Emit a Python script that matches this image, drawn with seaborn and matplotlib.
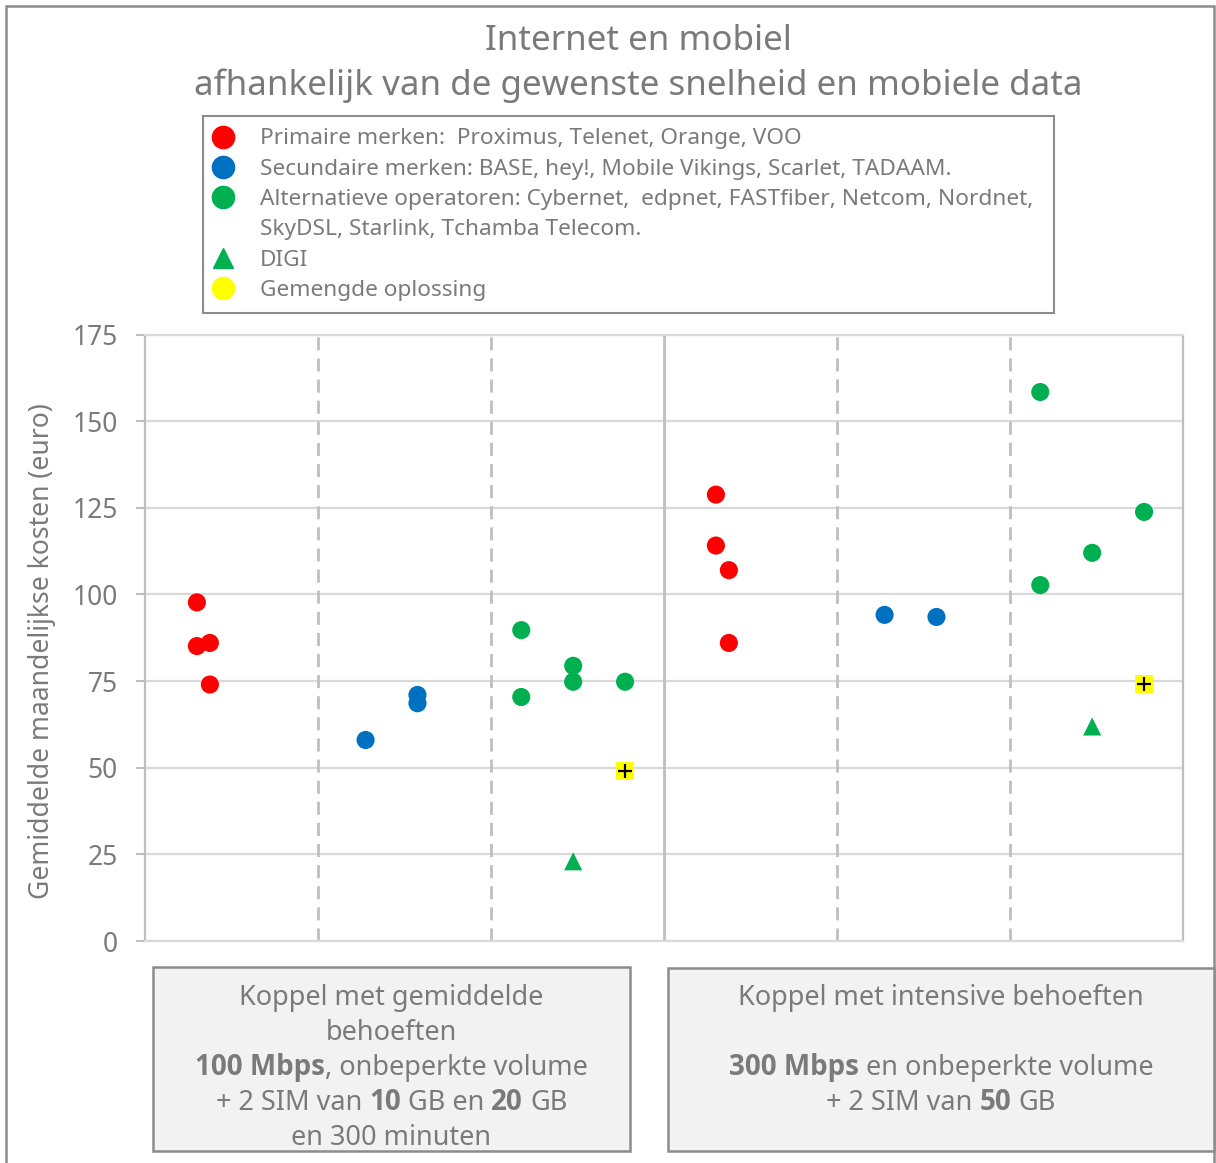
import matplotlib
matplotlib.use("Agg")
import matplotlib.pyplot as plt
from matplotlib import font_manager as fm
from matplotlib.lines import Line2D
from matplotlib.patches import Rectangle
import seaborn as sns
import pandas as pd

# ---------------- data ----------------
primaire_x = [0.3, 0.3, 0.375, 0.375, 3.3, 3.3, 3.375, 3.375]
primaire_y = [97.7, 85.1, 86.0, 74.0, 128.8, 114.1, 107.0, 86.0]
secundaire_x = [1.275, 1.575, 1.575, 4.275, 4.575]
secundaire_y = [58.0, 71.0, 68.6, 94.1, 93.5]
alternatief_x = [2.175, 2.175, 2.475, 2.475, 2.775, 5.175, 5.175, 5.475, 5.775]
alternatief_y = [89.7, 70.4, 79.4, 74.8, 74.8, 158.4, 102.7, 112.0, 123.8]
digi_x = [2.475, 5.475]
digi_y = [23.0, 61.9]
gemengd_x = [2.775, 5.775]
gemengd_y = [49.1, 74.1]

legend_labels = [
    "Primaire merken:  Proximus, Telenet, Orange, VOO",
    "Secundaire merken: BASE, hey!, Mobile Vikings, Scarlet, TADAAM.",
    "Alternatieve operatoren: Cybernet,  edpnet, FASTfiber, Netcom, Nordnet,",
    "SkyDSL, Starlink, Tchamba Telecom.",
    "DIGI",
    "Gemengde oplossing",
]
y_ticks = [0, 25, 50, 75, 100, 125, 150, 175]
title_lines = ["Internet en mobiel",
               "afhankelijk van de gewenste snelheid en mobiele data"]
y_label = "Gemiddelde maandelijkse kosten (euro)"
box_left_lines = [
    [("Koppel met gemiddelde", False)],
    [("behoeften", False)],
    [("100 Mbps", True), (", onbeperkte volume", False)],
    [("+ 2 SIM van", False), ("10", True), ("GB en", False), ("20", True), ("GB", False)],
    [("en 300 minuten", False)],
]
box_right_lines = [
    [("Koppel met intensive behoeften", False)],
    [],
    [("300 Mbps", True), ("en onbeperkte volume", False)],
    [("+ 2 SIM van", False), ("50", True), ("GB", False)],
]

groups = (["Primair"] * len(primaire_x) + ["Secundair"] * len(secundaire_x)
          + ["Alternatief"] * len(alternatief_x) + ["DIGI"] * len(digi_x)
          + ["Gemengd"] * len(gemengd_x))
df = pd.DataFrame({
    "x": primaire_x + secundaire_x + alternatief_x + digi_x + gemengd_x,
    "y": primaire_y + secundaire_y + alternatief_y + digi_y + gemengd_y,
    "groep": groups,
})

RED, BLUE, GREEN, YELLOW = "#FF0000", "#0070C0", "#00B050", "#FFFF00"
palette = {"Primair": RED, "Secundair": BLUE, "Alternatief": GREEN,
           "DIGI": GREEN, "Gemengd": YELLOW}
markers = {"Primair": "o", "Secundair": "o", "Alternatief": "o",
           "DIGI": "^", "Gemengd": "s"}

# ---------------- style ----------------
sns.set_style("white")
plt.rcParams["font.family"] = ["Noto Sans", "DejaVu Sans"]
TXT = "#7a7a7a"


def has_real_bold(fam):
    try:
        path = fm.findfont(fm.FontProperties(family=fam, weight="bold"),
                           fallback_to_default=False)
    except Exception:
        return False
    low = path.lower()
    key = fam.lower().replace(" ", "")
    return key in low.replace(" ", "").replace("-", "").replace("_", "") and "bold" in low


BOLD_FAM = "DejaVu Sans"
for cand in ["Noto Sans", "Open Sans", "Lato", "Roboto", "DejaVu Sans"]:
    if has_real_bold(cand):
        BOLD_FAM = cand
        break

W, H = 1216, 1163
fig = plt.figure(figsize=(W / 100, H / 100), dpi=100)


def fx(px):
    return px / W


def fy(py):
    return 1 - py / H


ax = fig.add_axes([fx(145), fy(941), fx(1183) - fx(145), fy(334.5) - fy(941)])

sns.scatterplot(data=df, x="x", y="y", hue="groep", style="groep",
                palette=palette, markers=markers, s=170, linewidth=0,
                legend=False, ax=ax, zorder=3)
gm = df[df["groep"] == "Gemengd"]
ax.scatter(gm["x"], gm["y"], marker="+", s=110, color="black",
           linewidths=1.6, zorder=4)

ax.set_xlim(0, 6)
ax.set_ylim(0, 175)
ax.set_yticks(y_ticks)
ax.set_yticklabels([str(v) for v in y_ticks])
ax.set_xticks([])
ax.set_xlabel("")
ax.set_ylabel("")
ax.tick_params(axis="y", length=6.5, width=1.5, color="#bfbfbf",
               labelcolor=TXT, labelsize=19, pad=13, left=True)
ax.yaxis.grid(True, color="#d9d9d9", linewidth=1.6, zorder=0)
ax.set_axisbelow(True)
for v in [1, 2, 4, 5]:
    ax.axvline(v, color="#bfbfbf", linewidth=2, dashes=(4.7, 2.9), zorder=1)
ax.axvline(3, color="#bfbfbf", linewidth=2, zorder=1)
for side in ["left", "right"]:
    ax.spines[side].set_color("#bfbfbf")
    ax.spines[side].set_linewidth(1.6)
for side in ["bottom", "top"]:
    ax.spines[side].set_color("#d9d9d9")
    ax.spines[side].set_linewidth(1.6)

# y label
fig.text(fx(42), fy(651), y_label, rotation=90, ha="center", va="center",
         fontsize=19.1, color=TXT)

# title
fig.text(fx(638), fy(41), title_lines[0], ha="center", va="center",
         fontsize=25.2, color=TXT)
fig.text(fx(638), fy(86), title_lines[1], ha="center", va="center",
         fontsize=25.2, color=TXT)

# legend
handles = [
    Line2D([], [], linestyle="none", marker="o", markersize=16, color=RED),
    Line2D([], [], linestyle="none", marker="o", markersize=16, color=BLUE),
    Line2D([], [], linestyle="none", marker="o", markersize=16, color=GREEN),
    Line2D([], [], linestyle="none", marker="None"),
    Line2D([], [], linestyle="none", marker="^", markersize=14, color=GREEN),
    Line2D([], [], linestyle="none", marker="o", markersize=16, color=YELLOW),
]
leg = fig.legend(handles, legend_labels, loc="upper left", mode="expand",
                 bbox_to_anchor=(fx(203), fy(310), fx(1054) - fx(203), fy(116) - fy(310)),
                 bbox_transform=fig.transFigure, borderaxespad=0,
                 fontsize=16.3, labelcolor=TXT, frameon=True, fancybox=False,
                 framealpha=1, edgecolor="#8c8c8c", borderpad=0.55,
                 handlelength=0.7, handletextpad=1.25, labelspacing=0.41)
leg.get_frame().set_linewidth(1.5)

# outer border
fig.patches.append(Rectangle((fx(6), -0.01), fx(1214) - fx(6), fy(6) + 0.01,
                             transform=fig.transFigure, fill=False,
                             edgecolor="#8c8c8c", linewidth=1.8))

# boxes
fig.patches.append(Rectangle((fx(153), fy(1151)), fx(630) - fx(153), fy(967) - fy(1151),
                             transform=fig.transFigure, facecolor="#f2f2f2",
                             edgecolor="#8c8c8c", linewidth=1.8))
fig.patches.append(Rectangle((fx(668), fy(1151)), fx(1214) - fx(668), fy(968) - fy(1151),
                             transform=fig.transFigure, facecolor="#f2f2f2",
                             edgecolor="#8c8c8c", linewidth=1.8))

renderer = fig.canvas.get_renderer()
BOX_FS = 19.5


def space_width():
    a = fig.text(0, 0, "x x", fontsize=BOX_FS)
    b = fig.text(0, 0, "xx", fontsize=BOX_FS)
    w = a.get_window_extent(renderer).width - b.get_window_extent(renderer).width
    a.remove()
    b.remove()
    return w


SP = space_width()


def rich_line(cx, cy, pieces):
    if not pieces:
        return
    objs, widths = [], []
    for s, bold in pieces:
        if bold:
            t = fig.text(0, fy(cy), s, fontsize=BOX_FS + 0.5, color=TXT, ha="left",
                         va="center", fontweight="bold",
                         family=[BOLD_FAM, "DejaVu Sans"])
        else:
            t = fig.text(0, fy(cy), s, fontsize=BOX_FS, color=TXT, ha="left",
                         va="center")
        objs.append(t)
        widths.append(t.get_window_extent(renderer).width)
    gaps = []
    for i in range(1, len(pieces)):
        gaps.append(0 if pieces[i][0].startswith(",") else SP)
    total = sum(widths) + sum(gaps)
    x = cx - total / 2
    for i, t in enumerate(objs):
        t.set_x(fx(x))
        x += widths[i] + (gaps[i] if i < len(gaps) else 0)


line_y = [998, 1033, 1068, 1103, 1138]
for i, pieces in enumerate(box_left_lines):
    rich_line(391.5, line_y[i], pieces)
for i, pieces in enumerate(box_right_lines):
    rich_line(941, line_y[i], pieces)

fig.savefig("out.png", dpi=100)
